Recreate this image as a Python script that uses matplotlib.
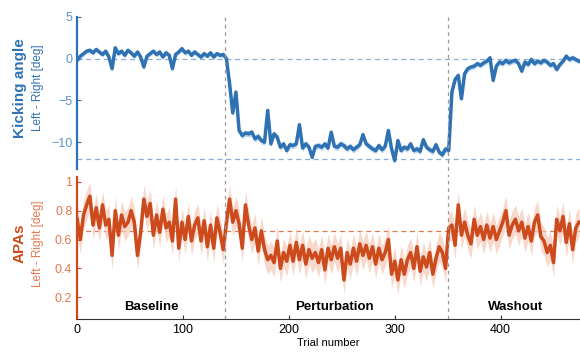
import numpy as np
import matplotlib
matplotlib.use('Agg')
import matplotlib.pyplot as plt

plt.rcParams['font.family'] = ['Liberation Sans', 'DejaVu Sans']

# sampled every 3 trials
trial_step = 3
kick = [-0.2, 0.3, 0.6, 0.9, 1.0, 0.7, 1.1, 0.8, 0.5, 0.9,
        0.2, -1.2, 1.3, 0.6, 0.9, 0.4, 1.0, 0.7, 0.3, 0.8,
        0.2, -1.0, 0.3, 0.6, 0.9, 0.5, 0.8, 0.2, 0.7, 0.4,
        -1.2, 0.5, 0.8, 1.2, 0.7, 0.9, 0.4, 0.8, 0.5, 0.2,
        0.6, 0.3, 0.7, 0.2, 0.6, 0.4, 0.5, 0.0, -3.0, -6.5,
        -4.0, -8.6, -9.2, -8.9, -9.0, -8.8, -9.6, -9.3, -9.8, -10.0,
        -6.2, -10.2, -9.0, -9.4, -10.6, -10.2, -11.0, -10.3, -10.4, -10.2,
        -7.9, -10.7, -10.2, -10.6, -11.8, -10.5, -10.4, -10.6, -10.2, -10.7,
        -8.8, -10.5, -10.6, -10.2, -10.4, -10.8, -10.5, -10.9, -10.6, -10.3,
        -9.1, -10.2, -10.5, -10.8, -11.0, -10.4, -10.9, -10.5, -8.6, -10.8,
        -12.2, -9.8, -11.0, -10.6, -10.8, -10.2, -11.0, -10.8, -11.1, -9.7,
        -10.6, -10.9, -11.1, -10.3, -11.2, -11.5, -10.8, -11.0, -4.0, -2.5,
        -2.0, -4.8, -1.8, -1.2, -1.0, -0.9, -0.6, -0.8, -0.5, -0.3,
        0.1, -2.6, -0.9, -0.4, -0.6, -0.2, -0.5, -0.3, -0.2, -0.6,
        -1.5, -0.4, -0.7, -0.1, -0.6, -0.3, -0.5, -0.2, -0.4, -0.8,
        -0.6, -1.3, -0.7, -0.3, 0.3, -0.1, 0.1, -0.1, -0.3]
apa = [0.74, 0.60, 0.77, 0.84, 0.90, 0.70, 0.82, 0.68, 0.84, 0.70,
       0.74, 0.49, 0.80, 0.63, 0.77, 0.69, 0.72, 0.80, 0.72, 0.49,
       0.65, 0.88, 0.76, 0.85, 0.63, 0.77, 0.65, 0.81, 0.68, 0.72,
       0.59, 0.88, 0.54, 0.72, 0.60, 0.76, 0.59, 0.70, 0.75, 0.59,
       0.73, 0.55, 0.70, 0.54, 0.75, 0.65, 0.53, 0.72, 0.88, 0.72,
       0.80, 0.71, 0.54, 0.84, 0.70, 0.60, 0.68, 0.52, 0.66, 0.53,
       0.46, 0.49, 0.44, 0.59, 0.40, 0.51, 0.45, 0.56, 0.45, 0.58,
       0.46, 0.56, 0.43, 0.53, 0.47, 0.51, 0.44, 0.53, 0.39, 0.54,
       0.46, 0.55, 0.47, 0.54, 0.32, 0.51, 0.43, 0.54, 0.45, 0.57,
       0.49, 0.56, 0.47, 0.55, 0.43, 0.54, 0.46, 0.51, 0.60, 0.36,
       0.45, 0.32, 0.46, 0.36, 0.46, 0.51, 0.40, 0.55, 0.38, 0.48,
       0.41, 0.51, 0.36, 0.47, 0.55, 0.51, 0.40, 0.68, 0.70, 0.56,
       0.84, 0.63, 0.72, 0.63, 0.57, 0.74, 0.63, 0.69, 0.60, 0.70,
       0.61, 0.69, 0.60, 0.66, 0.72, 0.80, 0.63, 0.70, 0.74, 0.66,
       0.72, 0.61, 0.69, 0.59, 0.72, 0.77, 0.62, 0.59, 0.51, 0.56,
       0.44, 0.74, 0.66, 0.76, 0.58, 0.71, 0.53, 0.68, 0.72]

# phases: baseline / perturbation / washout
phase_names = ['Baseline', 'Perturbation', 'Washout']
phase_edges = [140, 350]
phase_label_x = [70, 243, 414]
kick_sem = [0.3, 0.4, 0.35]
apa_sem = [0.1, 0.1, 0.1]
kick_ref = [0, -12]
apa_ref = 0.66

blue = '#2f72b3'
blue_lt = '#5b93cc'
orange = '#cc4a1b'
orange_lt = '#e07a4f'

trials = np.arange(len(kick)) * trial_step
kick = np.array(kick)
apa = np.array(apa)
phase_idx = np.searchsorted(phase_edges, trials)
ksem = np.array(kick_sem)[phase_idx]
asem = np.array(apa_sem)[phase_idx]

fig = plt.figure(figsize=(5.8, 3.52), dpi=100)
ax1 = fig.add_axes([0.133, 0.52, 0.867, 0.432])
ax2 = fig.add_axes([0.133, 0.093, 0.867, 0.405])

# top panel: kicking angle
for r in kick_ref:
    ax1.axhline(r, color='#86aed8', ls=(0, (4, 3)), lw=0.9, zorder=1)
ax1.fill_between(trials, kick - ksem, kick + ksem, color='#a9c8e8', alpha=0.7, lw=0, zorder=2)
ax1.plot(trials, kick, color=blue, lw=2.5, zorder=3)
ax1.set_xlim(0, 475)
ax1.set_ylim(-13.2, 5)
ax1.set_yticks([5, 0, -5, -10])
ax1.set_xticks([])
for s in ['top', 'right', 'bottom']:
    ax1.spines[s].set_visible(False)
ax1.spines['left'].set_color(blue)
ax1.spines['left'].set_linewidth(1.6)
ax1.tick_params(axis='y', direction='in', length=3, color=blue, labelcolor=blue_lt, labelsize=9)

# bottom panel: APAs
ax2.axhline(apa_ref, color=orange_lt, ls=(0, (4, 3)), lw=0.9, zorder=1)
ax2.fill_between(trials, apa - asem, apa + asem, color='#f7cbbb', alpha=0.75, lw=0, zorder=2)
ax2.plot(trials, apa, color=orange, lw=2.5, zorder=3)
ax2.set_xlim(0, 475)
ax2.set_ylim(0.048, 1.035)
ax2.set_yticks([0.2, 0.4, 0.6, 0.8, 1])
ax2.set_yticklabels(['0.2', '0.4', '0.6', '0.8', '1'])
ax2.set_xticks([0, 100, 200, 300, 400])
for s in ['top', 'right']:
    ax2.spines[s].set_visible(False)
ax2.spines['left'].set_color(orange)
ax2.spines['left'].set_linewidth(1.6)
ax2.spines['bottom'].set_color('#333333')
ax2.tick_params(axis='y', direction='in', length=3, color=orange, labelcolor=orange_lt, labelsize=9)
ax2.tick_params(axis='x', direction='in', length=3, color='#333333', labelsize=9)
ax2.set_xlabel('Trial number', fontsize=8, labelpad=1)

for name, xp in zip(phase_names, phase_label_x):
    ax2.text(xp, 0.135, name, ha='center', va='center', fontsize=9.5, fontweight='bold')

# phase boundaries across both panels
for e in phase_edges:
    ax1.axvline(e, ymin=-0.06, ymax=1, color='#999999', ls=(0, (3, 3)), lw=0.9, clip_on=False, zorder=4)
    ax2.axvline(e, color='#999999', ls=(0, (3, 3)), lw=0.9, zorder=4)

# y labels
fig.text(0.034, 0.75, 'Kicking angle', rotation=90, ha='center', va='center', color=blue,
         fontsize=11, fontweight='bold')
fig.text(0.066, 0.75, 'Left - Right [deg]', rotation=90, ha='center', va='center', color=blue, fontsize=8.5)
fig.text(0.034, 0.31, 'APAs', rotation=90, ha='center', va='center', color=orange,
         fontsize=11, fontweight='bold')
fig.text(0.066, 0.307, 'Left - Right [deg]', rotation=90, ha='center', va='center', color=orange_lt, fontsize=8.5)

fig.savefig('out.png', dpi=100)
